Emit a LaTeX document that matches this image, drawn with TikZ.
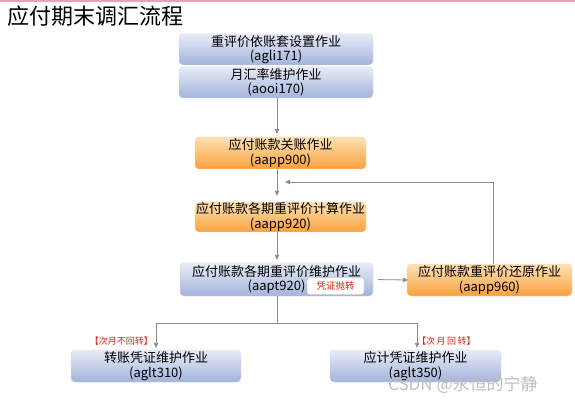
\documentclass[tikz,border=0pt]{standalone}
\usepackage{fontspec}
\setmainfont{Noto Sans CJK SC}
\usetikzlibrary{arrows.meta}
\definecolor{bluetop}{HTML}{E8ECF7}
\definecolor{bluebot}{HTML}{A2B3DB}
\definecolor{orgtop}{HTML}{FEE2B4}
\definecolor{orgbot}{HTML}{F9A03C}
\definecolor{lnc}{HTML}{8C8C8C}
\definecolor{pinkline}{HTML}{E2A4BA}
\definecolor{notered}{HTML}{E0201C}
\begin{document}
\begin{tikzpicture}[x=1pt,y=-1pt,
  box/.style={rounded corners=4pt, inner sep=0pt, align=center, font=\fontsize{13}{14.5}\selectfont, text=black},
  bluebox/.style={box, top color=bluetop, bottom color=bluebot, draw=bluebot!50!white, line width=0.3pt},
  orgbox/.style={box, top color=orgtop, bottom color=orgbot, draw=orgbot!40!white, line width=0.3pt},
  conn/.style={draw=lnc, line width=0.8pt},
  arr/.style={conn, -{Triangle[length=5pt,width=4.5pt]}},
  note/.style={text=notered, font=\fontsize{9}{10}\selectfont, inner sep=0pt}]
\useasboundingbox (0,0) rectangle (575,403);
\fill[white] (0,0) rectangle (575,403);
\fill[pinkline] (0,0) rectangle (575,2);

\node[anchor=base west, inner sep=0pt, font=\fontsize{22}{24}\selectfont] (title) at (7,25) {应付期末调汇流程};

\node[bluebox, minimum width=194, minimum height=31] (b1) at (276,49.5) {重评价依账套设置作业\\(agli171)};
\node[bluebox, minimum width=194, minimum height=31] (b2) at (276,82.5) {月汇率维护作业\\(aooi170)};
\node[orgbox, minimum width=171, minimum height=32] (b3) at (280.5,153) {应付账款关账作业\\(aapp900)};
\node[orgbox, minimum width=171, minimum height=30] (b4) at (280.5,217) {应付账款各期重评价计算作业\\(aapp920)};
\node[bluebox, minimum width=193, minimum height=33] (b5) at (276.5,279.5) {应付账款各期重评价维护作业\\(aapt920)};
\node[orgbox, minimum width=165, minimum height=32] (b6) at (489.5,280) {应付账款重评价还原作业\\(aapp960)};
\node[bluebox, minimum width=170, minimum height=32] (b7) at (156,366) {转账凭证维护作业\\(aglt310)};
\node[bluebox, minimum width=171, minimum height=32] (b8) at (415.5,366) {应计凭证维护作业\\(aglt350)};

\node[draw=lnc!70, fill=white, rounded corners=2pt, minimum width=57, minimum height=17, inner sep=0pt,
      text=notered, font=\fontsize{9.5}{10}\selectfont] (btn) at (335.5,286) {凭证抛转};

\coordinate (fb) at (285,182);
\coordinate (j) at (277,323);

\draw[arr, shorten >=3pt] (b2.south -| j) -- (j |- b3.north);
\draw[arr, shorten >=6pt] (b3.south -| j) -- (j |- b4.north);
\draw[arr, shorten >=3pt] (b4.south -| j) -- (j |- b5.north);
\draw[arr, shorten <=5pt, shorten >=-1pt] (b5.east) -- (b6.west);
\draw[arr] ([xshift=3.5pt]b6.north) |- (fb);
\draw[conn] (b5.south -| j) -- (j);
\draw[arr, shorten >=2pt] (j) -| (b7.north);
\draw[arr, shorten >=2pt] (j) -| ([xshift=1.5pt]b8.north);

\node[note, anchor=east] (n1) at (153,341) {【次月不回转】};
\node[note, anchor=west] (n2) at (417,341) {【次\,月\,回\,转】};

\node[anchor=west, inner sep=0pt, text=gray!50, font=\fontsize{17}{18}\selectfont] (wm) at (388,385) {CSDN @永恒的宁静};
\end{tikzpicture}
\end{document}
